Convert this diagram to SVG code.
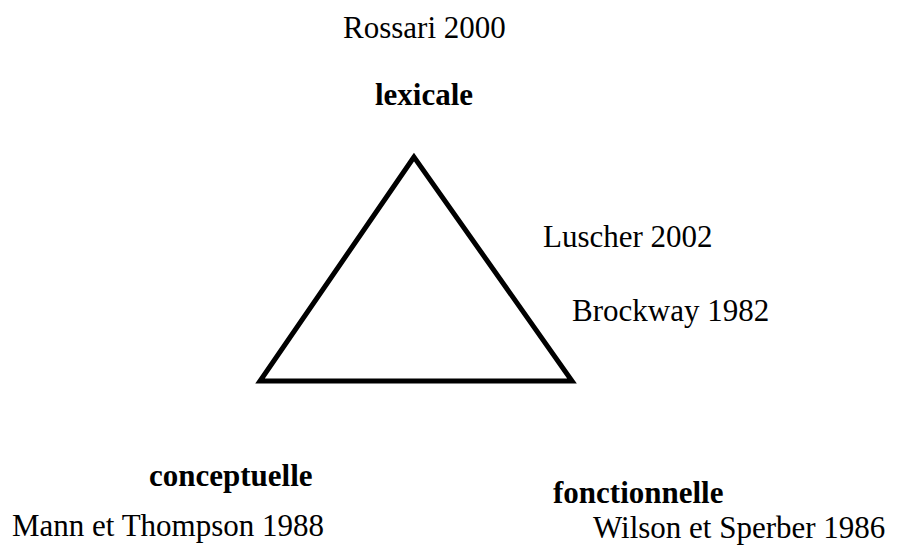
<svg xmlns="http://www.w3.org/2000/svg" width="897" height="552" viewBox="0 0 897 552">
<style>
text{font-family:"Liberation Serif","Times New Roman",serif;font-size:31px;fill:#000}
.b{font-weight:bold}
.tri{fill:none;stroke:#000;stroke-width:5;stroke-linejoin:miter}
</style>
<rect width="897" height="552" fill="#fff"/>
<g id="connectors">
<polygon class="tri" points="414,157 260,381 572,381"/>
</g>
<g id="lexicale">
<text x="343" y="38">Rossari 2000</text>
<text class="b" x="375" y="105">lexicale</text>
</g>
<g id="fonctionnelle-refs">
<text x="543" y="247">Luscher 2002</text>
<text x="572" y="321">Brockway 1982</text>
</g>
<g id="conceptuelle">
<text class="b" x="149" y="486">conceptuelle</text>
<text x="12" y="536">Mann et Thompson 1988</text>
</g>
<g id="fonctionnelle">
<text class="b" x="553" y="503">fonctionnelle</text>
<text x="593" y="538">Wilson et Sperber 1986</text>
</g>
</svg>
